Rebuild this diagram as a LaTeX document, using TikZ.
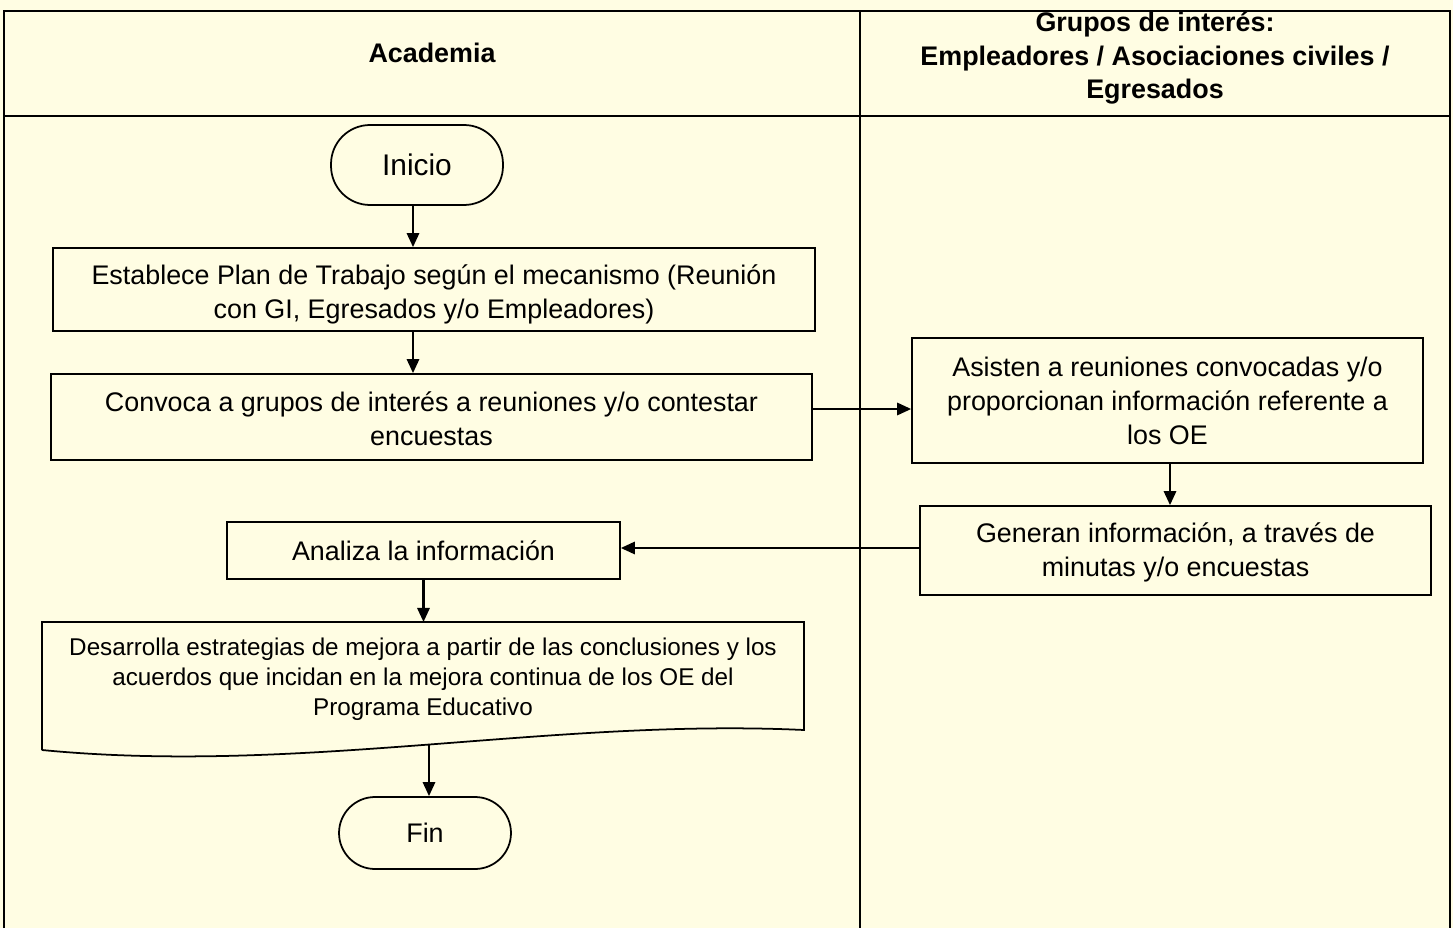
\documentclass[tikz,border=0pt]{standalone}
\usepackage{fontspec}
\setmainfont{Liberation Sans}
\usetikzlibrary{arrows.meta}
\definecolor{bg}{HTML}{FFFDE3}
\newcommand\mystrut{\rule{0pt}{17pt}}
\newcommand\mystrutb{\rule{0pt}{13.5pt}}
\begin{document}
\begin{tikzpicture}[x=0.02cm,y=-0.02cm,
  box/.style={draw, line width=1pt, align=center, inner sep=0pt,
    font=\fontsize{15.3}{19.3}\selectfont},
  term/.style={box, rounded corners=0.78cm, minimum width=3.44cm},
  hdr/.style={align=center, font=\fontsize{15.3}{18.9}\selectfont\bfseries},
  frame/.style={line width=0.8pt},
  arr/.style={-{Triangle[length=8pt,width=7pt]}, line width=1.3pt}]
\fill[bg] (0,0) rectangle (1453,928);
% frame
\draw[frame] (4,928) -- (4,11) -- (1450,11) -- (1450,928);
\draw[frame] (4,116) -- (1450,116);
\draw[frame] (860,11) -- (860,928);
\node[hdr] (h1) at (432,53) {Academia};
\node[hdr] (h2) at (1155,58) {Grupos de interés:\\Empleadores / Asociaciones civiles /\\Egresados};
% nodes
\node[term, minimum height=1.6cm, font=\fontsize{17}{20}\selectfont] (inicio) at (417,165) {Inicio};
\node[box, minimum width=15.24cm, minimum height=1.66cm] (b1) at (434,289.5)
  {\mystrut Establece Plan de Trabajo según el mecanismo (Reunión\\con GI, Egresados y/o Empleadores)};
\node[box, minimum width=15.22cm, minimum height=1.72cm] (b2) at (431.5,417)
  {\mystrutb Convoca a grupos de interés a reuniones y/o contestar\\encuestas};
\node[box, minimum width=10.22cm, minimum height=2.5cm] (b3) at (1167.5,400.5)
  {Asisten a reuniones convocadas y/o\\proporcionan información referente a\\los OE};
\node[box, minimum width=10.22cm, minimum height=1.78cm] (b4) at (1175.5,550.5)
  {\mystrutb Generan información, a través de\\minutas y/o encuestas};
\node[box, minimum width=7.86cm, minimum height=1.14cm] (b5) at (423.5,550.5)
  {Analiza la información};
% document shape
\draw[line width=1pt] (42,750) -- (42,622) -- (804,622) -- (804,730)
  .. controls (550,718) and (300,775) .. (42,750);
\node[align=center, font=\fontsize{13.8}{17}\selectfont] (b6) at (423,679)
  {Desarrolla estrategias de mejora a partir de las conclusiones y los\\acuerdos que incidan en la mejora continua de los OE del\\Programa Educativo};
\coordinate (b6b) at (429,745);
\node[term, rounded corners=0.72cm, minimum height=1.44cm] (fin) at (425,833) {Fin};
% connectors
\draw[arr] ([xshift=-0.08cm]inicio.south) -- ([xshift=-0.08cm]inicio.south |- b1.north);
\draw[arr] ([xshift=-0.08cm]inicio.south |- b1.south) -- ([xshift=-0.08cm]inicio.south |- b2.north);
\draw[arr] ([yshift=0.16cm]b2.east) -- ([yshift=0.16cm]b2.east -| b3.west);
\draw[arr] ([xshift=0.05cm]b3.south) -- ([xshift=0.05cm]b3.south |- b4.north);
\draw[arr] ([yshift=0.05cm]b4.west) -- ([yshift=0.05cm]b4.west -| b5.east);
\draw[arr] (b5.south) -- (b5.south |- 0,622);
\draw[arr] (b6b) -- (b6b |- fin.north);
\end{tikzpicture}
\end{document}
